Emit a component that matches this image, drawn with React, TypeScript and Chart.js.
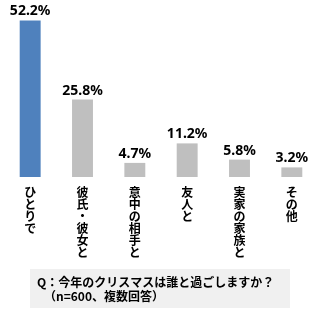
import React, { useEffect, useRef } from "react";
import { Chart, registerables } from "chart.js";

Chart.register(...registerables);

const categories = ["ひとりで", "彼氏・彼女と", "意中の相手と", "友人と", "実家の家族と", "その他"];
const values = [52.2, 25.8, 4.7, 11.2, 5.8, 3.2];
const valueLabels = ["52.2%", "25.8%", "4.7%", "11.2%", "5.8%", "3.2%"];
const barColors = ["#4F81BD", "#BFBFBF", "#BFBFBF", "#BFBFBF", "#BFBFBF", "#BFBFBF"];
const titleLines = ["Q：今年のクリスマスは誰と過ごしますか？", "（n=600、複数回答）"];

const JP = '"Noto Sans CJK JP", "Noto Sans", sans-serif';

const decorPlugin = {
  id: "decor",
  afterDatasetsDraw(chart: any) {
    const ctx = chart.ctx;
    const meta = chart.getDatasetMeta(0);
    const xScale = chart.scales.x;
    ctx.save();
    // value labels
    ctx.fillStyle = "#000";
    ctx.font = 'bold 14px "Noto Sans", sans-serif';
    ctx.textAlign = "center";
    ctx.textBaseline = "alphabetic";
    meta.data.forEach((bar: any, i: number) => {
      ctx.fillText(valueLabels[i], bar.x, bar.y - 5);
    });
    // vertical category labels
    ctx.font = "bold 12px " + JP;
    ctx.textBaseline = "top";
    categories.forEach((label, i) => {
      const x = xScale.getPixelForValue(i);
      const chars = Array.from(label);
      chars.forEach((ch, j) => {
        ctx.fillText(ch, x, chart.chartArea.bottom + 9 + j * 12);
      });
    });
    // title box
    ctx.fillStyle = "#F0F0F0";
    ctx.fillRect(30, 269, 260, 39);
    ctx.fillStyle = "#000";
    ctx.textAlign = "left";
    ctx.textBaseline = "middle";
    ctx.font = "bold 12px " + JP;
    ctx.fillText(titleLines[0], 37, 282);
    ctx.fillText(titleLines[1], 44, 296);
    ctx.restore();
  },
};

export default function App() {
  const ref = useRef<HTMLCanvasElement>(null);
  useEffect(() => {
    if (!ref.current) return;
    const chart = new Chart(ref.current, {
      type: "bar",
      data: {
        labels: categories,
        datasets: [
          {
            data: values,
            backgroundColor: barColors,
            borderWidth: 0,
            barPercentage: 0.4,
            categoryPercentage: 1,
          },
        ],
      },
      options: {
        responsive: false,
        animation: false,
        layout: { padding: { left: 4, right: 4, top: 12, bottom: 133 } },
        plugins: { legend: { display: false }, tooltip: { enabled: false } },
        scales: {
          x: { display: false },
          y: { display: false, min: 0, max: 55 },
        },
      },
      plugins: [decorPlugin],
    });
    return () => chart.destroy();
  }, []);
  return (
    <div style={{ position: "absolute", left: 0, top: 0, width: 322, height: 310, background: "#fff" }}>
      <canvas ref={ref} width={322} height={310} style={{ display: "block" }} />
    </div>
  );
}
